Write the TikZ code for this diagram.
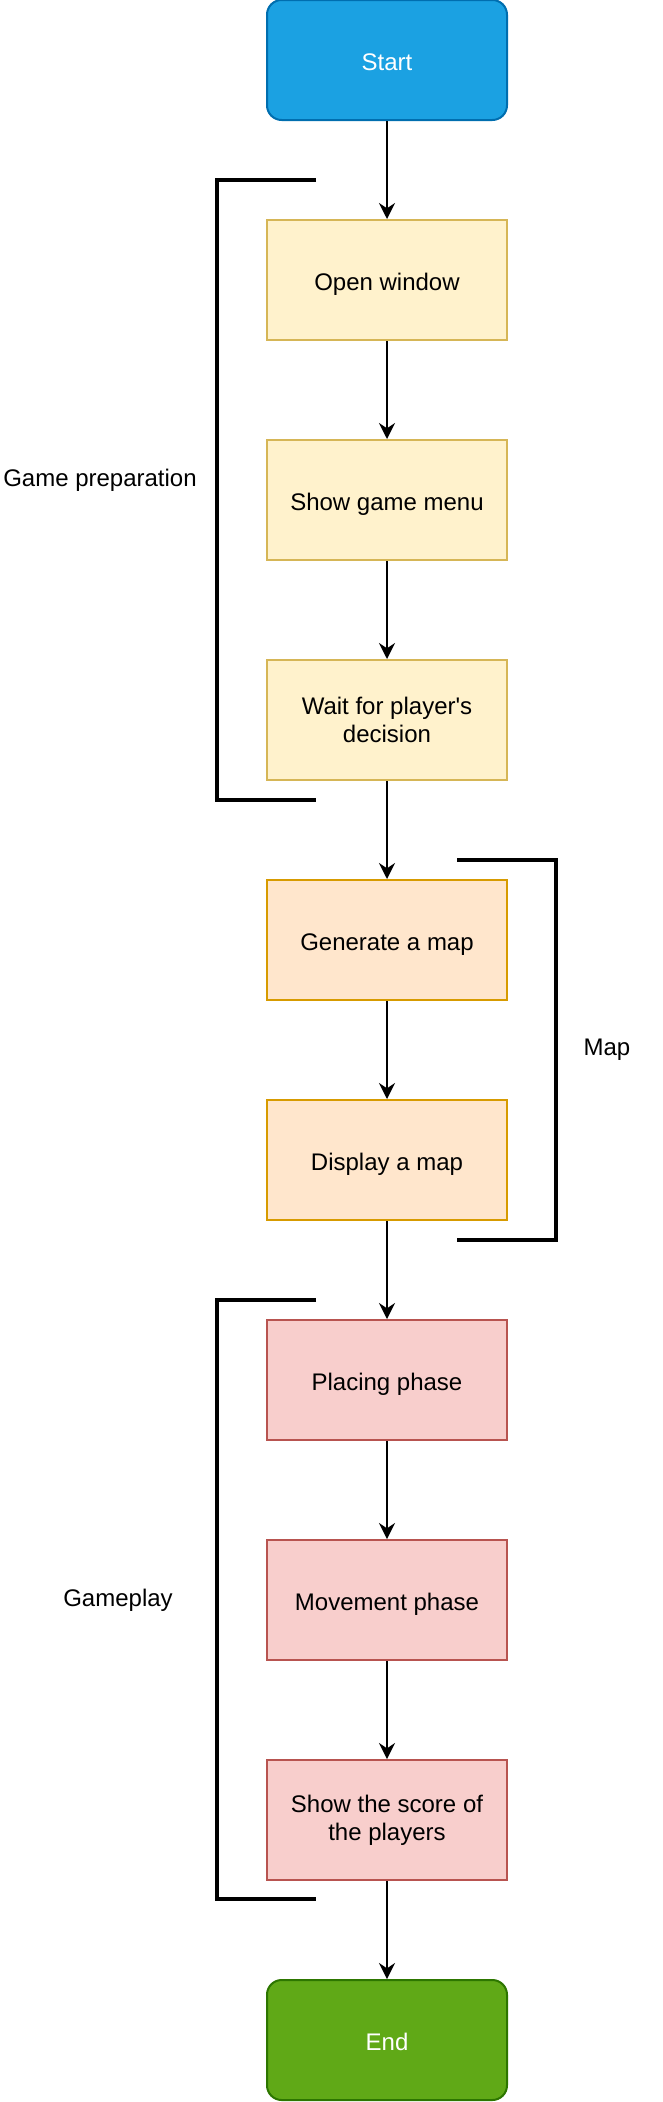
\documentclass[tikz,border=0pt]{standalone}
\usepackage{fontspec}
\setmainfont{Liberation Sans}[Ligatures=TeXOff]
\usetikzlibrary{arrows.meta}
\definecolor{startfill}{HTML}{1BA1E2}
\definecolor{startdraw}{HTML}{006EAF}
\definecolor{endfill}{HTML}{60A917}
\definecolor{enddraw}{HTML}{2D7600}
\definecolor{yfill}{HTML}{FFF2CC}
\definecolor{ydraw}{HTML}{D6B656}
\definecolor{ofill}{HTML}{FFE6CC}
\definecolor{odraw}{HTML}{D79B00}
\definecolor{rfill}{HTML}{F8CECC}
\definecolor{rdraw}{HTML}{B85450}
\tikzset{
  x=0.75pt, y=-0.75pt,
  basebox/.style={rectangle, minimum width=180pt, minimum height=90pt, line width=1.5pt, align=center, inner sep=2pt, font=\fontsize{18}{21}\selectfont},
  oneline/.style={text height=16pt, text depth=0pt},
  termbox/.style={basebox, oneline, rounded corners=11pt, text=white},
  startbox/.style={termbox, fill=startfill, draw=startdraw},
  endbox/.style={termbox, fill=endfill, draw=enddraw},
  ybox/.style={basebox, fill=yfill, draw=ydraw},
  obox/.style={basebox, fill=ofill, draw=odraw},
  rbox/.style={basebox, fill=rfill, draw=rdraw},
  flow/.style={line width=1.5pt, -{Stealth[length=12pt, width=12pt, inset=4pt]}},
  bracket/.style={line width=3pt},
  grouplabel/.style={font=\fontsize{18}{21}\selectfont, inner sep=0pt}
}
\begin{document}
\begin{tikzpicture}
\useasboundingbox (0,0) rectangle (662,2102);
\node[startbox] (start) at (387,60) {Start};
\node[ybox, oneline] (ow) at (387,280) {Open window};
\node[ybox, oneline] (menu) at (387,500) {Show game menu};
\node[ybox] (wait) at (387,720) {Wait for player's\\decision};
\node[obox, oneline] (gen) at (387,940) {Generate a map};
\node[obox, oneline] (disp) at (387,1160) {Display a map};
\node[rbox, oneline] (place) at (387,1380) {Placing phase};
\node[rbox, oneline] (move) at (387,1600) {Movement phase};
\node[rbox] (score) at (387,1820) {Show the score of\\the players};
\node[endbox] (end) at (387,2040) {End};

\draw[flow] (start) -- (ow);
\draw[flow] (ow) -- (menu);
\draw[flow] (menu) -- (wait);
\draw[flow] (wait) -- (gen);
\draw[flow] (gen) -- (disp);
\draw[flow] (disp) -- (place);
\draw[flow] (place) -- (move);
\draw[flow] (move) -- (score);
\draw[flow] (score) -- (end);

\coordinate (b1a) at (316,180);
\coordinate (b1b) at (217,180);
\coordinate (b1c) at (217,800);
\coordinate (b1d) at (316,800);
\draw[bracket] (b1a) -- (b1b) -- (b1c) -- (b1d);
\node[grouplabel] (lprep) at (100,480) {Game preparation};

\coordinate (b2a) at (457,860);
\coordinate (b2b) at (556,860);
\coordinate (b2c) at (556,1240);
\coordinate (b2d) at (457,1240);
\draw[bracket] (b2a) -- (b2b) -- (b2c) -- (b2d);
\node[grouplabel] (lmap) at (607,1050) {Map};

\coordinate (b3a) at (316,1300);
\coordinate (b3b) at (217,1300);
\coordinate (b3c) at (217,1899);
\coordinate (b3d) at (316,1899);
\draw[bracket] (b3a) -- (b3b) -- (b3c) -- (b3d);
\node[grouplabel] (lplay) at (118,1600) {Gameplay};
\end{tikzpicture}
\end{document}
